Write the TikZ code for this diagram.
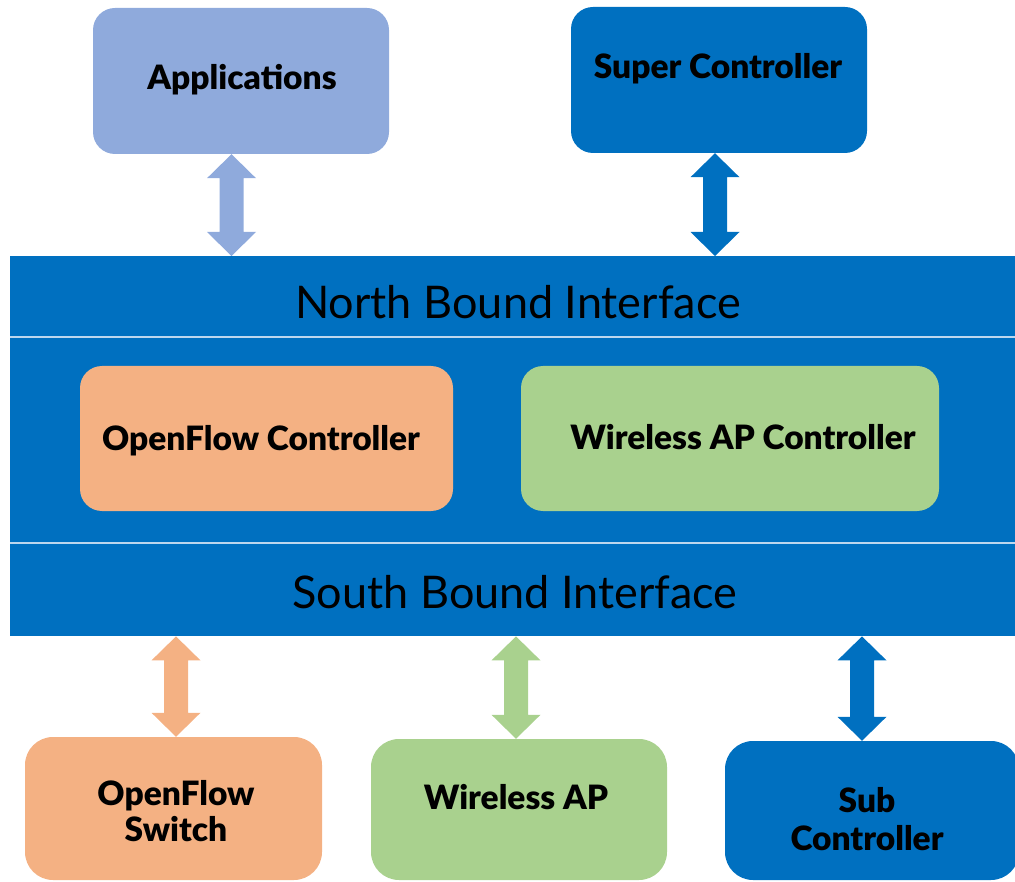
\documentclass[tikz,border=0pt]{standalone}
\usepackage{fontspec}
\setmainfont{Lato}[BoldFont={Lato Black}]
\usetikzlibrary{calc}
\definecolor{appc}{HTML}{8FAADC}
\definecolor{dblue}{HTML}{0070C0}
\definecolor{orng}{HTML}{F4B183}
\definecolor{grn}{HTML}{A9D18E}
\definecolor{sepc}{HTML}{BDD7EE}
\tikzset{
  box/.style={rounded corners=22pt, inner sep=0pt},
  lbl/.style={inner sep=0pt, align=center, font=\fontsize{33.5}{36}\selectfont\bfseries},
  bandtext/.style={inner sep=0pt, font=\fontsize{45}{50}\selectfont},
  sepline/.style={draw=sepc, line width=1.5pt},
}
\newcommand\dblarrow[3]{%
  \fill[#1] (#2) -- ($(#2)+(-24.5,24)$) -- ($(#2)+(-12,24)$) -- ($(#3)+(-12,-24)$)
    -- ($(#3)+(-24.5,-24)$) -- (#3) -- ($(#3)+(24.5,-24)$) -- ($(#3)+(12,-24)$)
    -- ($(#2)+(12,24)$) -- ($(#2)+(24.5,24)$) -- cycle;}
\begin{document}
\begin{tikzpicture}[x=1pt,y=-1pt]
\useasboundingbox (0,0) rectangle (1015,882);
\clip (0,0) rectangle (1015,882);
% top boxes
\node[box, fill=appc, minimum width=296pt, minimum height=146pt] (app) at (241,81) {};
\node[lbl] (appt) at (242,80) {Applications};
\node[box, fill=dblue, minimum width=296pt, minimum height=146pt] (sup) at (719,80) {};
\node[lbl] (supt) at (718,69) {Super Controller};
% band
\node[fill=dblue, inner sep=0pt, minimum width=1005pt, minimum height=380pt, anchor=north west] (bd) at (10,256) {};
\coordinate (s1) at (10,337);
\coordinate (s2) at (10,543);
\draw[sepline] (s1) -- (s1 -| bd.east);
\draw[sepline] (s2) -- (s2 -| bd.east);
\node[bandtext] (nbi) at (518,302) {North Bound Interface};
\node[bandtext] (sbi) at (515,592) {South Bound Interface};
% middle boxes
\node[box, fill=orng, minimum width=373pt, minimum height=145pt] (ofc) at (266.5,438.5) {};
\node[lbl] (ofct) at (261,441) {OpenFlow Controller};
\node[box, fill=grn, minimum width=418pt, minimum height=145pt] (wac) at (730,438.5) {};
\node[lbl] (wact) at (743,437) {Wireless AP Controller};
% bottom boxes
\node[box, rounded corners=28pt, fill=orng, minimum width=297pt, minimum height=143pt] (ofs) at (173.5,808.5) {};
\node[lbl] (ofst) at (176,811) {OpenFlow\\Switch};
\node[box, rounded corners=28pt, fill=grn, minimum width=296pt, minimum height=141pt] (wap) at (519,809.5) {};
\node[lbl] (wapt) at (516,797) {Wireless AP};
\node[box, rounded corners=28pt, fill=dblue, minimum width=294pt, minimum height=139pt] (sub) at (872,810.5) {};
\node[lbl, font=\fontsize{33.5}{38}\selectfont\bfseries] (subt) at (867,819) {Sub\\Controller};
% arrows
\coordinate (x1) at (231.5,0);
\coordinate (x2) at (715,0);
\coordinate (x3) at (176,0);
\coordinate (x4) at (516,0);
\coordinate (x5) at (862,0);
\dblarrow{appc}{x1 |- app.south}{x1 |- bd.north}
\dblarrow{dblue}{x2 |- sup.south}{x2 |- bd.north}
\dblarrow{orng}{x3 |- bd.south}{x3 |- ofs.north}
\dblarrow{grn}{x4 |- bd.south}{x4 |- wap.north}
\dblarrow{dblue}{x5 |- bd.south}{x5 |- sub.north}
\end{tikzpicture}
\end{document}
